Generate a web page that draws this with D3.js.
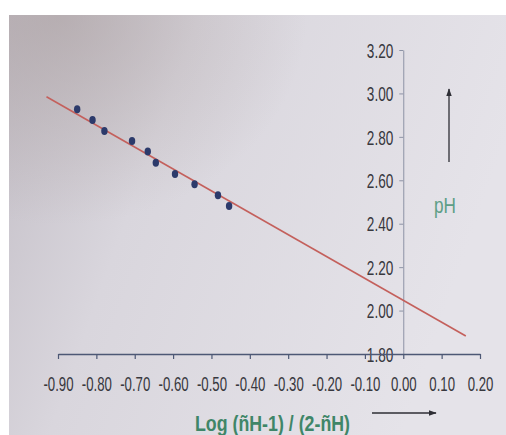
<!DOCTYPE html>
<html><head><meta charset="utf-8">
<script src="https://cdn.jsdelivr.net/npm/d3@7"></script>
<style>html,body{margin:0;padding:0;background:#fff;}svg{display:block;}</style>
</head><body>
<svg id="c" width="506" height="435"></svg>
<script>
// ---- data ----
const pointX = [-0.850, -0.810, -0.779, -0.707, -0.666, -0.645, -0.595, -0.544, -0.483, -0.454];
const pointY = [2.927, 2.878, 2.827, 2.781, 2.732, 2.681, 2.629, 2.582, 2.531, 2.482];
const fitX = [-0.93, 0.163];
const fitY = [2.985, 1.883];
const xTicks = [-0.9, -0.8, -0.7, -0.6, -0.5, -0.4, -0.3, -0.2, -0.1, 0, 0.1, 0.2];
const yTicks = [1.8, 2.0, 2.2, 2.4, 2.6, 2.8, 3.0, 3.2];
const xTitle = "Log (ñH-1) / (2-ñH)";
const yTitle = "pH";

const svg = d3.select("#c");
const defs = svg.append("defs");
const g1 = defs.append("linearGradient").attr("id","bg").attr("x1","0").attr("y1","0").attr("x2","1").attr("y2","0.3");
g1.append("stop").attr("offset","0").attr("stop-color","#c3bec6");
g1.append("stop").attr("offset","0.35").attr("stop-color","#d9d6dd");
g1.append("stop").attr("offset","1").attr("stop-color","#e5e3e9");
const g2 = defs.append("radialGradient").attr("id","sh").attr("cx","0.1").attr("cy","0.0").attr("r","0.5");
g2.append("stop").attr("offset","0").attr("stop-color","#a89c9c").attr("stop-opacity","0.55");
g2.append("stop").attr("offset","1").attr("stop-color","#a89c9c").attr("stop-opacity","0");
defs.append("marker").attr("id","ah").attr("viewBox","0 0 10 10").attr("refX","9").attr("refY","5")
  .attr("markerWidth","6").attr("markerHeight","6").attr("orient","auto")
  .append("path").attr("d","M0,1.5 L10,5 L0,8.5 Z").attr("fill","#2e2e35");

svg.append("rect").attr("x",9).attr("y",15).attr("width",497).attr("height",420).attr("fill","url(#bg)");
svg.append("rect").attr("x",9).attr("y",15).attr("width",497).attr("height",420).attr("fill","url(#sh)");

const x = d3.scaleLinear().domain([-0.9, 0.2]).range([58, 480]);
const y = d3.scaleLinear().domain([1.8, 3.2]).range([354, 50]);
const fmt = (d) => d.toFixed(2);
const font = "'Liberation Sans', Arial, sans-serif";

// y axis
const ya = svg.append("g").attr("transform", `translate(${x(0)},0)`)
  .call(d3.axisLeft(y).tickValues(yTicks).tickFormat(fmt).tickSize(4).tickSizeOuter(0));
ya.select(".domain").attr("stroke","#8d93a5").attr("stroke-width",1);
ya.selectAll(".tick line").attr("stroke","#8d93a5");
ya.selectAll(".tick text").attr("x",-14.7).attr("dy","0.36em")
  .attr("transform","scale(0.68,1)").attr("font-family",font).attr("font-size",20).attr("fill","#38383e");

// x axis
const xa = svg.append("g").attr("transform", `translate(0,${y(1.8)})`)
  .call(d3.axisBottom(x).tickValues(xTicks).tickFormat(fmt).tickSize(5).tickSizeOuter(0));
xa.select(".domain").attr("stroke","#4d5875").attr("stroke-width",1.5);
xa.selectAll(".tick line").attr("stroke","#4d5875").attr("stroke-width",1.2);
xa.selectAll(".tick text").attr("y",37).attr("dy",0)
  .attr("transform","scale(0.66,1)").attr("font-family",font).attr("font-size",20).attr("fill","#38383e");

// fit line
svg.append("line")
  .attr("x1", x(fitX[0])).attr("y1", y(fitY[0]))
  .attr("x2", x(fitX[1])).attr("y2", y(fitY[1]))
  .attr("stroke","#c4605c").attr("stroke-width",1.6);

// points
svg.append("g").selectAll("ellipse").data(pointX).join("ellipse")
  .attr("cx",(d)=>x(d)).attr("cy",(d,i)=>y(pointY[i]))
  .attr("rx",3.2).attr("ry",4).attr("fill","#2c3a6b");

// axis titles
svg.append("text").attr("x",195).attr("y",431).attr("textLength",155).attr("lengthAdjust","spacingAndGlyphs")
  .attr("font-family",font).attr("font-size",22).attr("font-weight","bold").attr("fill","#3f8668").text(xTitle);
svg.append("line").attr("x1",372).attr("y1",413).attr("x2",436).attr("y2",413)
  .attr("stroke","#2e2e35").attr("stroke-width",1.3).attr("marker-end","url(#ah)");

svg.append("text").attr("x",445).attr("y",213).attr("text-anchor","middle")
  .attr("transform","translate(445,0) scale(0.78,1) translate(-445,0)")
  .attr("font-family",font).attr("font-size",22).attr("fill","#5e9e86").text(yTitle);
svg.append("line").attr("x1",449).attr("y1",162).attr("x2",449).attr("y2",89)
  .attr("stroke","#2e2e35").attr("stroke-width",1.3).attr("marker-end","url(#ah)");
</script>
</body></html>
